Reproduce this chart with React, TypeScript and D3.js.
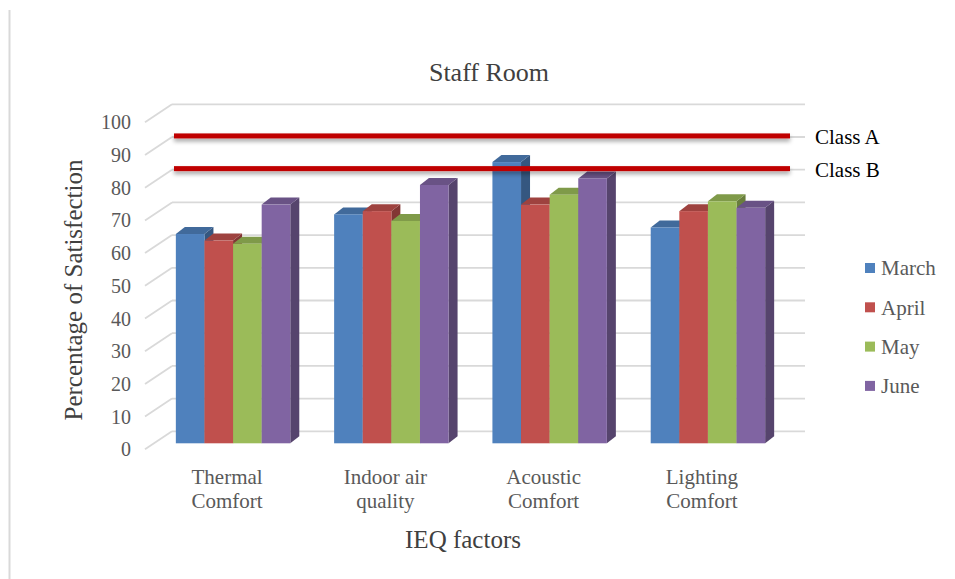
import React from "react";
import * as d3 from "d3";

const categories = [["Thermal", "Comfort"], ["Indoor air", "quality"], ["Acoustic", "Comfort"], ["Lighting", "Comfort"]];
const months = ["March", "April", "May", "June"];
const colors = ["#4F81BD", "#C0504D", "#9BBB59", "#8064A2"];
// values per category, one entry per month
const march = [64, 70, 86, 66];
const april = [62, 71, 73, 71];
const may = [61, 68, 76, 74];
const june = [73, 79, 81, 72];
const series = [march, april, may, june];
const yTicks = [0, 10, 20, 30, 40, 50, 60, 70, 80, 90, 100];
const classNames = ["Class A", "Class B"];
const classValues = [94, 84];

const W = 955;
const H = 579;
const font = "'Liberation Serif', 'Times New Roman', serif";

// oblique 3D offsets
const wallDx = 27, wallDy = -18; // back wall
const barDx = 9, barDy = -6; // front face of bars
const topDx = 9, topDy = -7; // bar depth

export default function App() {
  const y = d3.scaleLinear().domain([0, 100]).range([449.3, 122.3]);
  const x = d3
    .scaleBand<number>()
    .domain(d3.range(categories.length))
    .range([145, 778])
    .paddingInner(0.277)
    .paddingOuter(0.138);
  const x1 = d3.scaleBand<number>().domain(d3.range(months.length)).range([0, x.bandwidth()]);
  const [x0, xEnd] = x.range();

  const bars: JSX.Element[] = [];
  categories.forEach((_, ci) => {
    series.forEach((vals, si) => {
      const bx = x(ci)! + x1(si)! + barDx;
      const bw = x1.bandwidth();
      const yt = y(vals[ci]) + barDy;
      const yb = y(0) + barDy;
      const c = d3.color(colors[si])!;
      const side = `${bx + bw},${yt} ${bx + bw + topDx},${yt + topDy} ${bx + bw + topDx},${yb + topDy} ${bx + bw},${yb}`;
      const top = `${bx},${yt} ${bx + topDx},${yt + topDy} ${bx + bw + topDx},${yt + topDy} ${bx + bw},${yt}`;
      bars.push(
        <g key={`${ci}-${si}`}>
          <polygon points={side} fill={c.darker(1.1).toString()} />
          <polygon points={top} fill={c.darker(0.55).toString()} />
          <rect x={bx} y={yt} width={bw} height={yb - yt} fill={colors[si]} />
        </g>
      );
    });
  });

  return (
    <svg width={W} height={H} style={{ position: "absolute", left: 0, top: 0, background: "#fff" }} fontFamily={font}>
      <defs>
        <filter id="shadow" x="-5%" y="-100%" width="110%" height="400%">
          <feDropShadow dx="0" dy="3" stdDeviation="2" floodColor="#000" floodOpacity="0.35" />
        </filter>
      </defs>
      <line x1={9.5} x2={9.5} y1={10} y2={H} stroke="#D9D9D9" strokeWidth={2} />

      <text x={489} y={81} textAnchor="middle" fontSize={26} fill="#404040">Staff Room</text>

      {/* grid: back wall lines and left diagonals */}
      {yTicks.map((t) => (
        <g key={t} stroke="#D9D9D9" strokeWidth={1.8} fill="none">
          <line x1={x0} y1={y(t)} x2={x0 + wallDx} y2={y(t) + wallDy} />
          <line x1={x0 + wallDx} y1={y(t) + wallDy} x2={xEnd + wallDx} y2={y(t) + wallDy} />
        </g>
      ))}
      {yTicks.map((t) => (
        <text key={t} x={131} y={y(t)} dy="0.35em" textAnchor="end" fontSize={20} fill="#595959">{t}</text>
      ))}

      {bars}

      {classValues.map((v, i) => (
        <g key={classNames[i]}>
          <rect x={x0 + 29} width={xEnd + 12 - x0 - 29} y={y(v) + barDy - 2.5} height={5} fill="#C00000" filter="url(#shadow)" />
          <text x={815} y={y(v) + barDy + 1} dy="0.35em" fontSize={21} fill="#000">{classNames[i]}</text>
        </g>
      ))}

      {categories.map((lines, ci) => (
        <text key={ci} x={x(ci)! + x.bandwidth() / 2 + 3} y={484} textAnchor="middle" fontSize={21} fill="#595959">
          {lines.map((l, li) => (
            <tspan key={li} x={x(ci)! + x.bandwidth() / 2 + 3} dy={li === 0 ? 0 : 24}>{l}</tspan>
          ))}
        </text>
      ))}

      <text transform={`translate(82,290) rotate(-90)`} textAnchor="middle" fontSize={25} fill="#404040">Percentage of Satisfection</text>
      <text x={463} y={548} textAnchor="middle" fontSize={25} fill="#404040">IEQ factors</text>

      {months.map((m, i) => (
        <g key={m}>
          <rect x={865} y={263 + i * 39.3} width={10} height={10} fill={colors[i]} />
          <text x={881} y={268 + i * 39.3} dy="0.35em" fontSize={21} fill="#595959">{m}</text>
        </g>
      ))}
    </svg>
  );
}
